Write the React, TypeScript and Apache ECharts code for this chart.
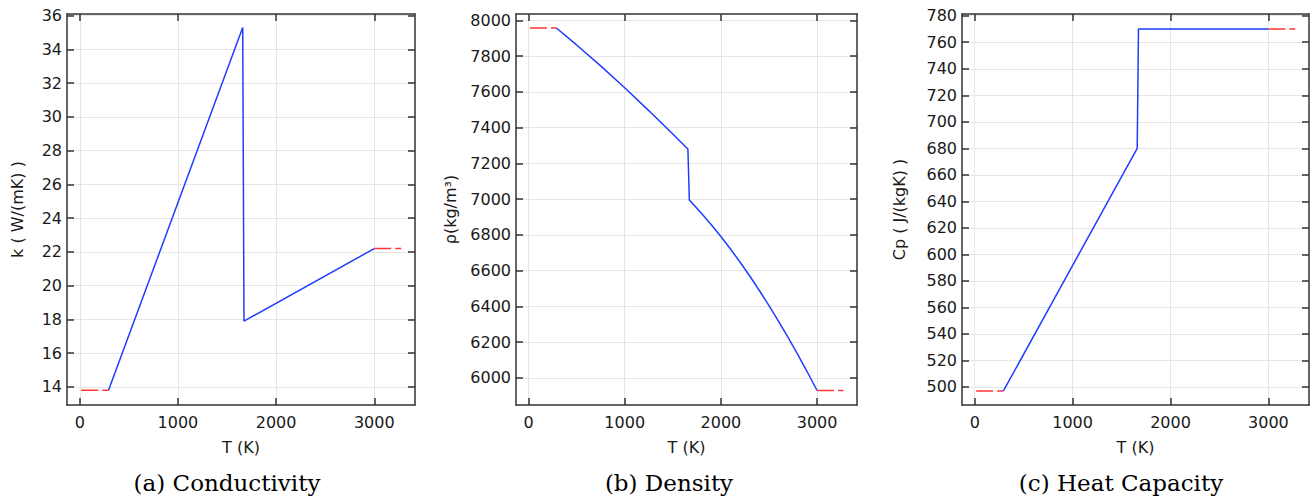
import React, { useEffect, useRef } from "react";
import * as echarts from "echarts";

// ---------- data ----------
const xTicks = [0, 1000, 2000, 3000];

// (a) conductivity
const condT = [293, 1660, 1673, 3000];
const condK = [13.8, 35.3, 17.9, 22.2];
const condLowT = [15, 293];
const condLowK = [13.8, 13.8];
const condHighT = [3000, 3275];
const condHighK = [22.2, 22.2];
const condTicks = [14, 16, 18, 20, 22, 24, 26, 28, 30, 32, 34, 36];

// (b) density
const densT = [290, 500, 750, 1000, 1250, 1500, 1657, 1672, 1800, 1900, 2000, 2100, 2200, 2300, 2400, 2500, 2600, 2700, 2800, 2900, 3000];
const densRho = [7957, 7862, 7745, 7623, 7495, 7364, 7280, 6995, 6920, 6857, 6791, 6721, 6647, 6570, 6489, 6405, 6317, 6226, 6131, 6032, 5930];
const densLowT = [15, 290];
const densLowRho = [7957, 7957];
const densHighT = [3000, 3275];
const densHighRho = [5930, 5930];
const densTicks = [6000, 6200, 6400, 6600, 6800, 7000, 7200, 7400, 7600, 7800, 8000];

// (c) heat capacity
const cpT = [293, 1660, 1673, 3000];
const cpVal = [497, 680, 770, 770];
const cpLowT = [15, 293];
const cpLowVal = [497, 497];
const cpHighT = [3000, 3275];
const cpHighVal = [770, 770];
const cpTicks = [500, 520, 540, 560, 580, 600, 620, 640, 660, 680, 700, 720, 740, 760, 780];

const captions = ["(a) Conductivity", "(b) Density", "(c) Heat Capacity"];
const yNames = ["k ( W/(mK) )", "ρ(kg/m³)", "Cp ( J/(kgK) )"];

const zip = (a: number[], b: number[]) => a.map((v, i) => [v, b[i]]);

const BLUE = "#1f3dff";
const RED = "#ff3535";
const FRAME = "#333333";
const GRID = "#e6e6e6";
const TEXT = "#1a1a1a";
const SANS = "DejaVu Sans";

export default function App() {
  const ref = useRef<HTMLDivElement>(null);

  useEffect(() => {
    if (!ref.current) return;
    const chart = echarts.init(ref.current, undefined, { renderer: "svg" });

    const grids = [
      { left: 67, top: 14, width: 348, height: 391 },
      { left: 516, top: 14, width: 341, height: 391 },
      { left: 962, top: 14, width: 347, height: 391 },
    ];
    const yRanges = [
      [12.93, 36.1],
      [5849, 8035],
      [486.4, 781.3],
    ];
    const yTickSets = [condTicks, densTicks, cpTicks];
    const yNameGaps = [42, 58, 55];
    const captionX = [227, 669, 1121];
    const fmt = (v: number) => String(v);

    const xAxis: any[] = [];
    const yAxis: any[] = [];
    for (let i = 0; i < 3; i++) {
      xAxis.push({
        type: "value",
        gridIndex: i,
        position: "bottom",
        min: -130,
        max: 3415,
        name: "T (K)",
        nameLocation: "middle",
        nameGap: 34,
        nameTextStyle: { fontFamily: SANS, fontSize: 16, color: TEXT },
        axisLine: { show: true, onZero: false, lineStyle: { color: FRAME, width: 1.5 } },
        axisTick: { show: true, inside: true, length: 7, customValues: xTicks, lineStyle: { color: FRAME, width: 1.5 } },
        axisLabel: { show: true, customValues: xTicks, formatter: fmt, margin: 9, fontFamily: SANS, fontSize: 16, color: TEXT },
        splitLine: { show: true, lineStyle: { color: GRID, width: 1 } },
      });
      xAxis.push({
        type: "value",
        gridIndex: i,
        position: "top",
        min: -130,
        max: 3415,
        axisLine: { show: true, onZero: false, lineStyle: { color: FRAME, width: 1.5 } },
        axisTick: { show: true, inside: true, length: 7, customValues: xTicks, lineStyle: { color: FRAME, width: 1.5 } },
        axisLabel: { show: false },
        splitLine: { show: false },
      });
      yAxis.push({
        type: "value",
        gridIndex: i,
        position: "left",
        min: yRanges[i][0],
        max: yRanges[i][1],
        name: yNames[i],
        nameLocation: "middle",
        nameGap: yNameGaps[i],
        nameTextStyle: { fontFamily: SANS, fontSize: 16, color: TEXT },
        axisLine: { show: true, onZero: false, lineStyle: { color: FRAME, width: 1.5 } },
        axisTick: { show: true, inside: true, length: 7, customValues: yTickSets[i], lineStyle: { color: FRAME, width: 1.5 } },
        axisLabel: { show: true, customValues: yTickSets[i], formatter: fmt, margin: 5, fontFamily: SANS, fontSize: 16, color: TEXT },
        splitLine: { show: true, lineStyle: { color: GRID, width: 1 } },
      });
      yAxis.push({
        type: "value",
        gridIndex: i,
        position: "right",
        min: yRanges[i][0],
        max: yRanges[i][1],
        axisLine: { show: true, onZero: false, lineStyle: { color: FRAME, width: 1.5 } },
        axisTick: { show: true, inside: true, length: 7, customValues: yTickSets[i], lineStyle: { color: FRAME, width: 1.5 } },
        axisLabel: { show: false },
        splitLine: { show: false },
      });
    }

    const mkLine = (i: number, data: number[][], color: string, dashed: boolean) => ({
      type: "line",
      xAxisIndex: 2 * i,
      yAxisIndex: 2 * i,
      data,
      showSymbol: false,
      symbol: "none",
      silent: true,
      lineStyle: { color, width: 1.5, type: dashed ? [17, 4] : "solid" },
      z: dashed ? 2 : 3,
    });

    const series = [
      mkLine(0, zip(condLowT, condLowK), RED, true),
      mkLine(0, zip(condHighT, condHighK), RED, true),
      mkLine(0, zip(condT, condK), BLUE, false),
      mkLine(1, zip(densLowT, densLowRho), RED, true),
      mkLine(1, zip(densHighT, densHighRho), RED, true),
      mkLine(1, zip(densT, densRho), BLUE, false),
      mkLine(2, zip(cpLowT, cpLowVal), RED, true),
      mkLine(2, zip(cpHighT, cpHighVal), RED, true),
      mkLine(2, zip(cpT, cpVal), BLUE, false),
    ];

    const graphic = captions.map((t, i) => ({
      type: "text",
      x: captionX[i],
      y: 483,
      silent: true,
      style: {
        text: t,
        fill: "#000000",
        font: '23px "DejaVu Serif"',
        textAlign: "center",
        textVerticalAlign: "middle",
      },
    }));

    chart.setOption({
      animation: false,
      backgroundColor: "#ffffff",
      grid: grids,
      xAxis,
      yAxis,
      series,
      graphic,
    });

    return () => chart.dispose();
  }, []);

  return (
    <div
      ref={ref}
      style={{ position: "fixed", left: 0, top: 0, width: 1314, height: 498 }}
    />
  );
}
